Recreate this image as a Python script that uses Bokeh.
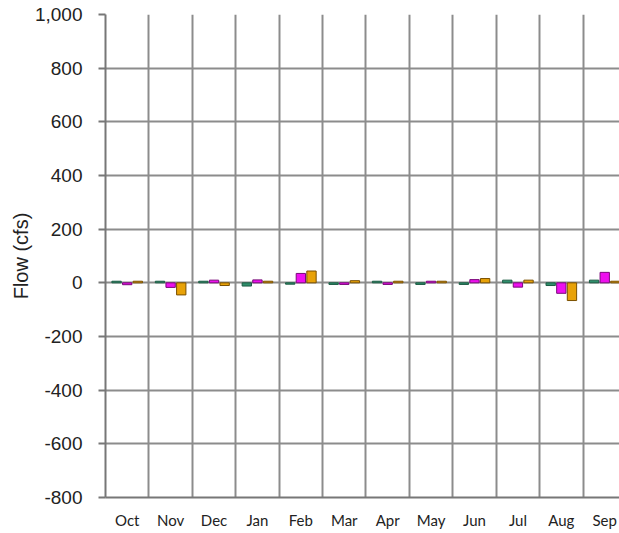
from bokeh.plotting import figure
from bokeh.models import Range1d, FixedTicker, NumeralTickFormatter, ColumnDataSource
from bokeh.embed import file_html
from bokeh.resources import INLINE

months = ["Oct", "Nov", "Dec", "Jan", "Feb", "Mar", "Apr", "May", "Jun", "Jul", "Aug", "Sep"]
series_a = [6, 6, 6, -12, -5, -6, 6, -6, -6, 10, -10, 10]       # green
series_b = [-7, -17, 10, 11, 35, -6, -6, 6, 12, -16, -39, 39]   # magenta
series_c = [6, -45, -10, 6, 44, 8, 6, 6, 16, 10, -66, 6]        # orange
y_ticks = [-800, -600, -400, -200, 0, 200, 400, 600, 800, 1000]

centers = [i + 0.5 for i in range(len(months))]

p = figure(width=619, height=533, output_backend="svg", toolbar_location=None,
           x_range=Range1d(0, 11.84), y_range=Range1d(-800, 1000),
           min_border_left=105, min_border_right=0, min_border_top=14, min_border_bottom=36)
p.outline_line_color = None
p.background_fill_color = "white"

# grids
p.xgrid.ticker = FixedTicker(ticks=list(range(1, 13)))
p.xgrid.grid_line_color = "#8c8c8c"
p.xgrid.grid_line_width = 2
p.ygrid.ticker = FixedTicker(ticks=y_ticks)
p.ygrid.grid_line_color = "#8c8c8c"
p.ygrid.grid_line_width = 2

# y axis
p.yaxis.ticker = FixedTicker(ticks=y_ticks)
p.yaxis.formatter = NumeralTickFormatter(format="0,0")
p.yaxis.axis_label = "Flow (cfs)"
p.yaxis.axis_label_text_font = "Liberation Sans"
p.yaxis.axis_label_text_font_size = "20px"
p.yaxis.axis_label_text_font_style = "normal"
p.yaxis.axis_label_text_color = "#222222"
p.yaxis.axis_label_standoff = 0
p.yaxis.major_label_text_font = "Liberation Sans"
p.yaxis.major_label_text_font_size = "19px"
p.yaxis.major_label_text_color = "#222222"
p.yaxis.major_label_standoff = 16
p.yaxis.major_tick_out = 7
p.yaxis.major_tick_in = 0
p.yaxis.minor_tick_line_color = None
p.yaxis.major_tick_line_color = "#777777"
p.yaxis.major_tick_line_width = 2
p.yaxis.axis_line_color = "#777777"
p.yaxis.axis_line_width = 2

# x axis
p.xaxis.ticker = FixedTicker(ticks=centers)
p.xaxis.major_label_overrides = {c: m for c, m in zip(centers, months)}
p.xaxis.major_label_text_font = "Lato"
p.xaxis.major_label_text_font_size = "15px"
p.xaxis.major_label_text_color = "#222222"
p.xaxis.major_label_standoff = 13
p.xaxis.major_tick_out = 0
p.xaxis.major_tick_in = 0
p.xaxis.minor_tick_line_color = None
p.xaxis.axis_line_color = "#777777"
p.xaxis.axis_line_width = 2

bw = 0.215
off = 0.245
specs = [
    (series_a, -off, "#2f8f6c", "#1c5c44"),
    (series_b, 0.0, "#ee10ee", "#7a0a7a"),
    (series_c, off, "#e8a208", "#7a5000"),
]
for vals, dx, fc, lc in specs:
    src = ColumnDataSource(dict(x=[c + dx for c in centers], top=vals, bottom=[0] * len(vals)))
    p.vbar(x="x", top="top", bottom="bottom", width=bw, source=src,
           fill_color=fc, line_color=lc, line_width=1)

open("out.html", "w").write(file_html(p, INLINE))
